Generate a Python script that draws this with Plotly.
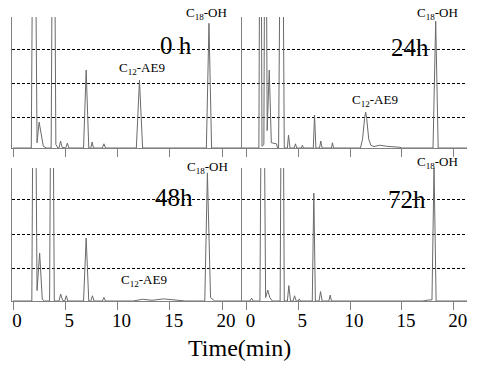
import plotly.graph_objects as go

# ---------------- data (retention time in min, detector response) ----------------
t_0h = [0, 1.75, 2.0, 2.3, 2.5, 2.9, 3.2, 3.65, 3.87, 4.1, 4.3, 4.4, 4.55, 4.7, 5.05, 5.2, 5.35,
        6.75, 7.0, 7.25, 7.45, 7.57, 7.7, 8.55, 8.7, 8.85, 11.8, 12.1, 12.4, 18.5, 18.75, 19.0, 22.0]
y_0h = [0, 0, 12, 0.15, 0.74, 0.05, 0, 0, 12, 0.1, 0, 0, 0.2, 0.02, 0, 0.14, 0,
        0, 2.23, 0, 0, 0.17, 0, 0, 0.12, 0, 0, 1.94, 0, 0, 3.57, 0, 0]

t_24h = [-0.43, 1.2, 1.35, 1.5, 1.68, 1.83, 2.0, 2.2, 2.4, 2.9, 3.0, 3.1, 3.4, 3.65, 3.95, 4.06, 4.2,
         4.6, 4.73, 4.85, 5.3, 5.4, 5.5, 6.45, 6.57, 6.7, 7.05, 7.17, 7.3, 8.2, 8.3, 8.4,
         11.0, 11.2, 11.4, 11.5, 11.6, 11.8, 12.0, 12.3, 12.85, 13.5, 14.8, 15.0, 18.0, 18.26, 18.5, 21.3]
y_24h = [0, 0, 12, 0.05, 0.1, 12, 0.5, 2.23, 0.15, 0.12, 0, 0, 12, 0, 0, 0.37, 0,
         0, 0.12, 0, 0, 0.08, 0, 0, 0.94, 0, 0, 0.2, 0, 0, 0.15, 0,
         0, 0.25, 0.85, 1.03, 0.85, 0.25, 0.08, 0.04, 0.08, 0.05, 0.02, 0, 0, 3.63, 0, 0]

t_48h = [0, 1.8, 2.02, 2.3, 2.55, 2.8, 3.0, 3.5, 3.72, 3.95, 4.4, 4.56, 4.75, 4.95, 5.1, 5.25,
         6.75, 7.0, 7.25, 7.45, 7.6, 7.75, 8.55, 8.7, 8.85, 11.5, 12.4, 13.3, 14.4, 15.6, 16.5,
         18.35, 18.6, 18.9, 19.3, 22.0]
y_48h = [0, 0, 12, 0.3, 1.37, 0.05, 0, 0, 12, 0, 0, 0.2, 0.02, 0, 0.15, 0,
         0, 1.8, 0, 0, 0.15, 0, 0, 0.1, 0, 0, 0.05, 0.02, 0.06, 0.03, 0,
         0, 3.66, 0.1, 0, 0]

t_72h = [-0.43, 0.35, 0.5, 0.65, 1.3, 1.56, 1.85, 2.06, 2.25, 2.5, 3.25, 3.45, 3.65, 3.95, 4.09, 4.25,
         4.5, 4.64, 4.8, 5.0, 5.1, 5.2, 6.35, 6.5, 6.65, 7.0, 7.15, 7.3, 7.95, 8.08, 8.2,
         17.0, 17.6, 17.9, 18.1, 18.3, 21.3]
y_72h = [0, 0, 0.08, 0, 0, 12, 0.1, 0.31, 0.1, 0, 0, 12, 0, 0, 0.44, 0,
         0, 0.15, 0, 0, 0.06, 0, 0, 3.08, 0, 0, 0.27, 0, 0, 0.17, 0,
         0, 0.03, 0.03, 3.85, 0, 0]

panel_labels = ["0 h", "24h", "48h", "72h"]
tick_vals = [0, 5, 10, 15, 20]
tick_text = ["0", "5", "10", "15", "20"]
x_title = "Time(min)"

# ---------------- figure ----------------
SERIF = "Liberation Serif"
W, H = 485, 367
ML, MR, MT, MB = 12, 18, 17, 66
PW, PH = W - ML - MR, H - MT - MB

def px(x):
    return (x - ML) / PW

def py(y):
    return (H - MB - y) / PH

xL = [0, px(242)]
xR = [px(242), 1]
yT = [py(148), 1]
yB = [0, py(168)]

series = [(t_0h, y_0h), (t_24h, y_24h), (t_48h, y_48h), (t_72h, y_72h)]
axes = [("x", "y"), ("x2", "y2"), ("x3", "y3"), ("x4", "y4")]

fig = go.Figure()
for (t, v), (xa, ya) in zip(series, axes):
    fig.add_trace(go.Scatter(x=t, y=v, mode="lines", xaxis=xa, yaxis=ya,
                             line=dict(color="#6a6a6a", width=1),
                             showlegend=False, hoverinfo="skip"))

def xax(domain, rng, anchor, labels):
    return dict(domain=domain, range=rng, anchor=anchor, showline=True, linecolor="#808080",
                linewidth=1, ticks="outside", ticklen=8, tickcolor="#808080", tickwidth=1,
                tickvals=tick_vals, ticktext=tick_text, showticklabels=labels,
                ticklabelshift=4, ticklabelstandoff=-6,
                tickfont=dict(family=SERIF, size=19, color="black"),
                showgrid=False, zeroline=False)

def yax(domain, rng, anchor, grid):
    return dict(domain=domain, range=rng, anchor=anchor, showline=True, linecolor="#808080",
                linewidth=1, ticks="", showticklabels=False, tickvals=grid,
                showgrid=True, gridcolor="black", gridwidth=1, griddash="3px,2px",
                zeroline=False)

rngL = [-0.096, 21.91]
rngR = [-0.43, 21.28]
gridT = [0.86, 1.86, 2.83]
gridB = [0.94, 1.91, 2.91]

fig.update_layout(
    width=W, height=H,
    margin=dict(l=ML, r=MR, t=MT, b=MB),
    paper_bgcolor="white", plot_bgcolor="white",
    font=dict(family=SERIF),
    xaxis=xax(xL, rngL, "y", False),
    yaxis=yax(yT, [0, 3.75], "x", gridT),
    xaxis2=xax(xR, rngR, "y2", False),
    yaxis2=yax(yT, [0, 3.75], "x2", gridT),
    xaxis3=xax(xL, rngL, "y3", True),
    yaxis3=yax(yB, [0, 3.8], "x3", gridB),
    xaxis4=xax(xR, rngR, "y4", True),
    yaxis4=yax(yB, [0, 3.8], "x4", gridB),
)

ann = []
# panel time labels
for lab, (cx, cy) in zip(panel_labels, [(176, 46), (410, 48), (174, 198), (407, 199)]):
    ann.append(dict(text=lab, x=px(cx), y=py(cy), xref="paper", yref="paper",
                    xanchor="center", yanchor="middle", showarrow=False,
                    font=dict(family=SERIF, size=25, color="black")))
# compound labels
c18 = "C<sub>18</sub>-OH"
c12 = "C<sub>12</sub>-AE9"
for lab, (cx, cy) in [(c18, (206, 14)), (c18, (437, 14)), (c18, (207, 167)), (c18, (437, 162)),
                      (c12, (142, 68)), (c12, (375, 100)), (c12, (144, 280))]:
    ann.append(dict(text=lab, x=px(cx), y=py(cy), xref="paper", yref="paper",
                    xanchor="center", yanchor="middle", showarrow=False,
                    font=dict(family=SERIF, size=13, color="black")))
# axis title
ann.append(dict(text=x_title, x=px(239), y=py(348), xref="paper", yref="paper",
                xanchor="center", yanchor="middle", showarrow=False,
                font=dict(family=SERIF, size=24, color="black")))
fig.update_layout(annotations=ann)

fig.write_html("out.html", config={"displayModeBar": False},
               post_script="document.body.style.margin='0';document.body.style.overflow='hidden';")
